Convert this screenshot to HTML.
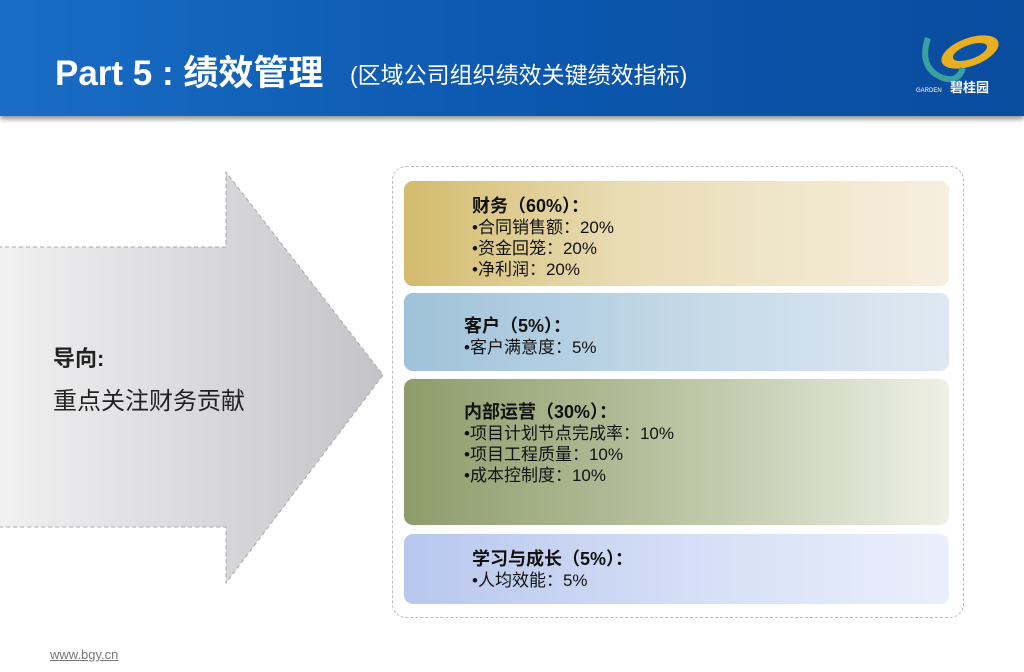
<!DOCTYPE html>
<html><head><meta charset="utf-8"><style>
body{margin:0;width:1024px;height:672px;overflow:hidden;background:#fff;font-family:"Liberation Sans","Noto Sans CJK SC",sans-serif;position:relative}
.hdr{position:absolute;left:0;top:0;width:1024px;height:116px;background:linear-gradient(90deg,#1a6cc4 0%,#0b58b0 50%,#0a4c9e 100%);box-shadow:0 3px 5px rgba(0,0,0,.45)}
.t1{position:absolute;left:55px;top:45px;color:#fff;font-size:35px;font-weight:bold;white-space:nowrap}
.t2{position:absolute;left:350px;top:56px;color:#fff;font-size:23px;white-space:nowrap}
.box{position:absolute;left:404px;width:545px;border-radius:9px;font-size:17px;color:#111;line-height:21px;white-space:nowrap}
.box b{font-size:18px}
.dash{position:absolute;left:392px;top:166px;width:570px;height:450px;border:1.5px dashed #bbb;border-radius:14px}
.lt{position:absolute;left:53px;font-size:24px;color:#222;white-space:nowrap}
</style></head><body>
<div class="hdr"></div>
<div class="t1">Part 5 : 绩效管理</div>
<div class="t2">(区域公司组织绩效关键绩效指标)</div>
<svg style="position:absolute;left:908px;top:28px" width="100" height="70">
<ellipse cx="62" cy="24" rx="30" ry="14" fill="#e8b020" transform="rotate(-20 62 24)"/>
<ellipse cx="62" cy="24" rx="18" ry="7" fill="#0b52a6" transform="rotate(-20 62 24)"/>
<path d="M20 10 Q10 40 35 50 Q50 55 55 40" stroke="#3aa0a0" stroke-width="6" fill="none"/>
<text x="42" y="64" fill="#fff" font-size="13" font-weight="bold" font-family="Noto Sans CJK SC">碧桂园</text>
<text x="8" y="64" fill="#fff" font-size="6">GARDEN</text>
</svg>
<svg style="position:absolute;left:0;top:170px" width="390" height="420">
<defs><linearGradient id="g" x1="0" x2="1"><stop offset="0" stop-color="#f1f1f2"/><stop offset="1" stop-color="#c4c4c8"/></linearGradient></defs>
<path d="M-2 77 H226 V2 L383 205 L226 413 V357 H-2 Z" fill="url(#g)" stroke="#aaa" stroke-dasharray="4 3"/>
</svg>
<div class="lt" style="top:341px;font-weight:bold;font-size:22px">导向:</div>
<div class="lt" style="top:381px">重点关注财务贡献</div>
<div class="dash"></div>
<div class="box" style="top:181px;height:105px;background:linear-gradient(90deg,#d3bb6c,#e9dcb4 40%,#f6efdf)"><div style="padding:15px 0 0 68px"><b>财务（60%）：</b><br>•合同销售额：20%<br>•资金回笼：20%<br>•净利润：20%</div></div>
<div class="box" style="top:293px;height:78px;background:linear-gradient(90deg,#9fc2da,#c3d8e7 50%,#dfe8f2)"><div style="padding:23px 0 0 60px"><b>客户（5%）：</b><br>•客户满意度：5%</div></div>
<div class="box" style="top:379px;height:146px;background:linear-gradient(90deg,#8e9c6b,#b5bf9c 45%,#eef0e6)"><div style="padding:23px 0 0 60px"><b>内部运营（30%）：</b><br>•项目计划节点完成率：10%<br>•项目工程质量：10%<br>•成本控制度：10%</div></div>
<div class="box" style="top:534px;height:70px;background:linear-gradient(90deg,#b7c7ee,#d3ddf5 50%,#eaeffb)"><div style="padding:15px 0 0 68px"><b>学习与成长（5%）：</b><br>•人均效能：5%</div></div>
<div style="position:absolute;left:50px;top:647px;font-size:13px;color:#777;text-decoration:underline">www.bgy.cn</div>
</body></html>
